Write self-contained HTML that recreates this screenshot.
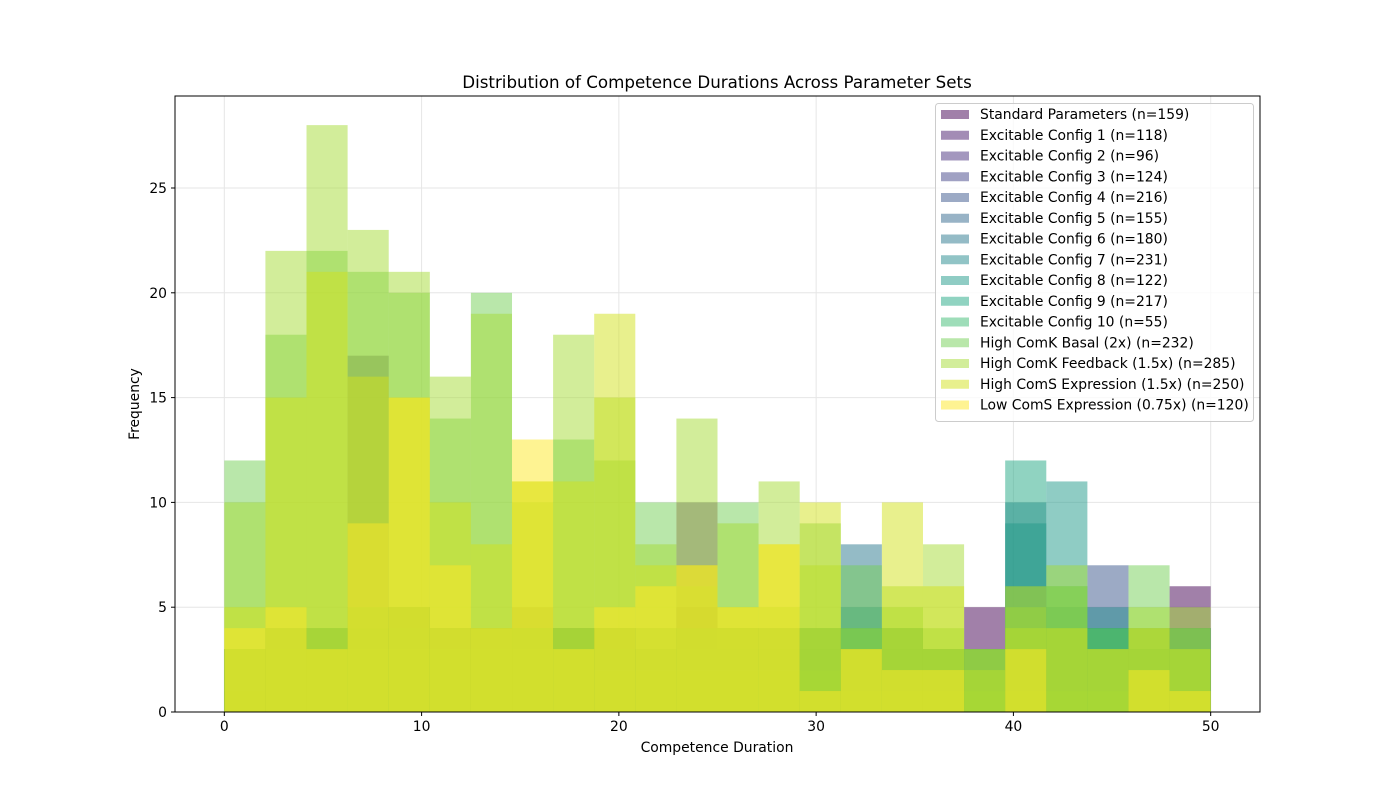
<!DOCTYPE html>
<html><head><meta charset="utf-8"><style>
body{margin:0;background:#fff;}
svg{display:block;font-family:"DejaVu Sans","Liberation Sans",sans-serif;}
</style></head><body>
<svg id="chart" width="1400" height="800">
<rect width="1400" height="800" fill="#fff"/>
<g id="grid"></g><g id="bars"></g><g id="axes"></g><g id="legend"></g>
<text x="717" y="88" text-anchor="middle" font-size="16.7">Distribution of Competence Durations Across Parameter Sets</text>
<text x="717" y="752" text-anchor="middle" font-size="13.9">Competence Duration</text>
<text x="139" y="404" text-anchor="middle" font-size="13.9" transform="rotate(-90 139 404)">Frequency</text>
</svg>
<script>
const seriesNames=["Standard Parameters (n=159)","Excitable Config 1 (n=118)","Excitable Config 2 (n=96)","Excitable Config 3 (n=124)","Excitable Config 4 (n=216)","Excitable Config 5 (n=155)","Excitable Config 6 (n=180)","Excitable Config 7 (n=231)","Excitable Config 8 (n=122)","Excitable Config 9 (n=217)","Excitable Config 10 (n=55)","High ComK Basal (2x) (n=232)","High ComK Feedback (1.5x) (n=285)","High ComS Expression (1.5x) (n=250)","Low ComS Expression (0.75x) (n=120)"];
const s0=[1,2,3,4,5,4,4,5,4,4,3,5,4,3,3,2,3,2,5,2,3,2,3,6];
const s1=[2,3,3,17,5,4,3,4,4,4,3,4,3,2,2,3,2,2,3,2,2,3,2,4];
const s2=[1,2,2,3,4,3,3,4,3,3,2,10,2,2,2,3,2,3,2,3,2,2,2,3];
const s3=[3,3,3,4,4,4,3,4,3,4,3,4,3,3,3,3,3,3,3,3,3,4,3,4];
const s4=[3,4,4,4,5,4,4,4,4,4,3,4,4,4,4,4,4,3,3,5,4,7,4,4];
const s5=[2,3,3,4,4,3,3,4,3,3,3,3,3,3,3,4,3,3,3,4,4,4,3,3];
const s6=[3,4,4,4,5,4,4,4,4,4,3,4,4,4,4,8,4,3,3,10,5,4,3,3];
const s7=[3,4,4,5,5,4,4,4,4,4,4,4,4,4,4,5,4,3,3,9,5,5,3,3];
const s8=[2,3,3,3,4,3,3,4,3,3,3,3,3,3,3,4,3,3,3,6,11,4,3,3];
const s9=[3,4,4,5,5,4,4,4,4,4,4,4,4,4,4,4,4,3,3,12,6,4,4,4];
const s10=[3,3,3,3,3,3,3,3,3,2,2,2,2,2,2,1,1,1,1,1,1,1,2,1];
const s11=[12,18,22,21,20,14,20,10,13,12,10,6,10,5,9,7,5,4,3,5,6,4,7,4];
const s12=[10,22,28,23,21,16,19,11,18,15,8,14,9,11,7,4,6,8,2,4,7,3,5,5];
const s13=[5,15,21,16,15,10,8,11,11,19,7,7,5,8,10,3,10,6,3,6,4,3,4,3];
const s14=[4,5,3,9,15,7,4,13,3,5,6,7,5,8,1,3,2,2,0,3,0,0,2,1];
const series=[s0,s1,s2,s3,s4,s5,s6,s7,s8,s9,s10,s11,s12,s13,s14];
const colors=["#440154","#481a6c","#472f7d","#414487","#39568c","#31688e","#2a788e","#23898e","#1f9a8a","#22a884","#3dbc74","#73d056","#a5db36","#d2e21b","#fde725"];
const binMin=0, binMax=50, nBins=24;
const xTicks=[0,10,20,30,40,50];
const yTicks=[0,5,10,15,20,25];
const NS="http://www.w3.org/2000/svg";
const L=175,R=1260,T=96,B=712;
function xs(v){return L+(v-(-2.5))/(55)*(R-L);}
function ys(v){return B-v*20.96;}
function mk(tag,attrs,parent){const e=document.createElementNS(NS,tag);for(const k in attrs)e.setAttribute(k,attrs[k]);parent.appendChild(e);return e;}
const grid=document.getElementById('grid'),bars=document.getElementById('bars'),axes=document.getElementById('axes'),leg=document.getElementById('legend');
xTicks.forEach(t=>{
 const g=mk('line',{x1:xs(t),x2:xs(t),y1:T,y2:B,stroke:'#e6e6e6','stroke-width':1},grid);
 
 
 const tk=mk('line',{x1:xs(t),x2:xs(t),y1:B,y2:B+4,stroke:'#000'},axes);
 
 
 const tx=mk('text',{x:xs(t),y:B+19,'text-anchor':'middle','font-size':13.9},axes);tx.textContent=t;
 
 
});
yTicks.forEach(t=>{
 const g=mk('line',{x1:L,x2:R,y1:ys(t),y2:ys(t),stroke:'#e6e6e6','stroke-width':1},grid);
 
 
 const tk=mk('line',{x1:L-4,x2:L,y1:ys(t),y2:ys(t),stroke:'#000'},axes);
 
 
 const tx=mk('text',{x:L-8,y:ys(t)+5,'text-anchor':'end','font-size':13.9},axes);tx.textContent=t;
 
 
});
const bw=(binMax-binMin)/nBins;
series.forEach((s,si)=>{
 s.forEach((v,bi)=>{
  if(v<=0)return;
  const x0=xs(binMin+bi*bw),x1=xs(binMin+(bi+1)*bw);
  const r=mk('rect',{x:x0,y:ys(v),width:x1-x0,height:ys(0)-ys(v),fill:colors[si],'fill-opacity':0.5},bars);
  
  
 });
});
const frame=mk('rect',{x:L,y:T,width:R-L,height:B-T,fill:'none',stroke:'#000','stroke-width':1},axes);


const box=mk('rect',{x:935.5,y:103.5,width:318,height:318,rx:3,fill:'#fff','fill-opacity':0.8,stroke:'#ccc'},leg);


seriesNames.forEach((n,i)=>{
 const y=114+i*20.75;
 const p=mk('rect',{x:941,y:y-4,width:28,height:9,fill:colors[i],'fill-opacity':0.5},leg);
 
 
 const t=mk('text',{x:980,y:y+5,'font-size':13.9},leg);t.textContent=n;
 
 
});
</script>
</body></html>
